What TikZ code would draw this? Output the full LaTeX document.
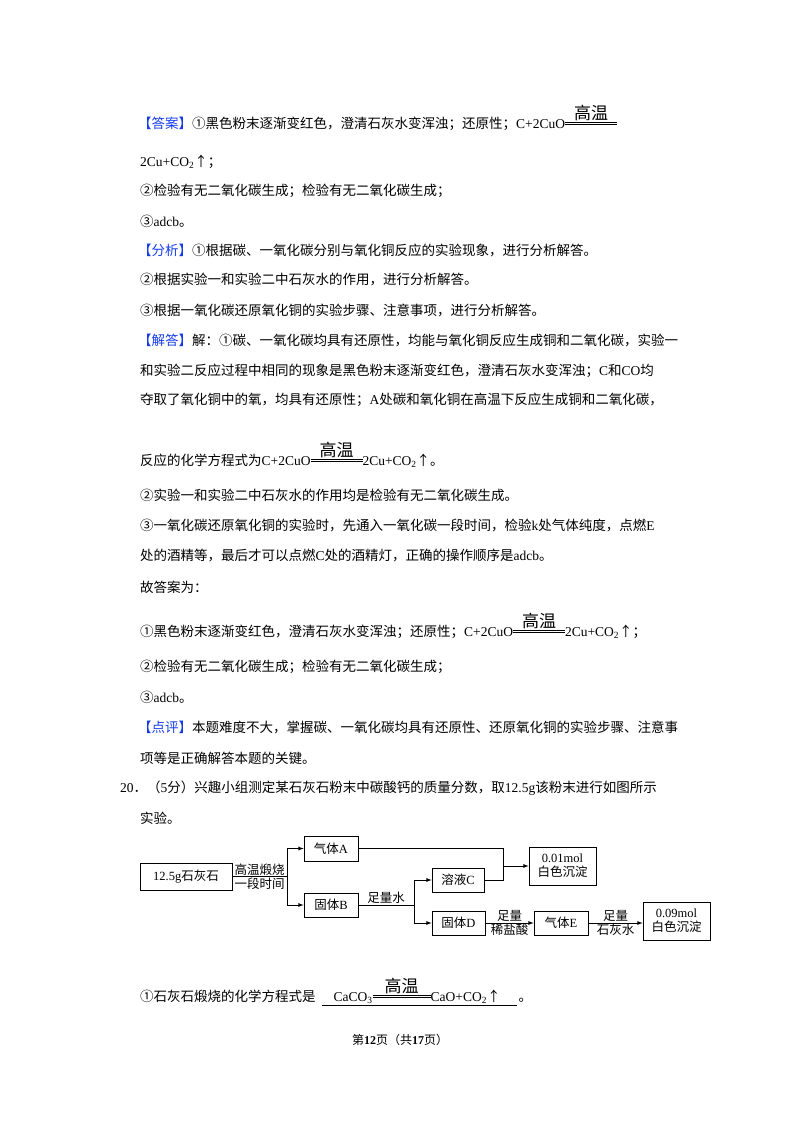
\documentclass[tikz,border=0pt]{standalone}
\usepackage{fontspec}
\setmainfont{Noto Sans CJK SC}
\newfontfamily\en{Liberation Serif}
\definecolor{tagblue}{RGB}{20,60,235}
\newcommand\tag[1]{\textcolor{tagblue}{【#1】}}
\newcommand\gw[1]{\raisebox{0.25em}{\vbox{\hbox to #1{\hss\fontsize{17}{17}\selectfont 高温\hss}\kern1pt\hrule width #1 height .6pt\kern1.6pt\hrule width #1 height .6pt}}}
\newcommand\cotwo{{\en CO\textsubscript{2}}}
\tikzset{
  txt/.style={anchor=west, inner sep=0pt, font=\fontsize{13.5}{16}\selectfont},
  box/.style={draw, thick, inner sep=2pt, align=center, font=\fontsize{12.5}{14}\selectfont},
  lbl/.style={inner sep=1pt, font=\fontsize{12.5}{14}\selectfont},
  flow/.style={thick, -latex}
}
\begin{document}
\begin{tikzpicture}[x=1pt, y=-1pt]
\useasboundingbox (0,0) rectangle (800,1132);
% answer
\node[txt] (l1) at (138,118) {\tag{答案}①黑色粉末逐渐变红色，澄清石灰水变浑浊；还原性；{\en C+2CuO}\gw{52pt}};
\node[txt] (l2) at (140,162) {{\en 2Cu+}\cotwo↑；};
\node[txt] (l3) at (140,191) {②检验有无二氧化碳生成；检验有无二氧化碳生成；};
\node[txt] (l4) at (140,221) {③{\en adcb}。};
% analysis
\node[txt] (l5) at (138,250) {\tag{分析}①根据碳、一氧化碳分别与氧化铜反应的实验现象，进行分析解答。};
\node[txt] (l6) at (140,280) {②根据实验一和实验二中石灰水的作用，进行分析解答。};
\node[txt] (l7) at (140,310) {③根据一氧化碳还原氧化铜的实验步骤、注意事项，进行分析解答。};
% solution
\node[txt] (l8) at (138,340) {\tag{解答}解：①碳、一氧化碳均具有还原性，均能与氧化铜反应生成铜和二氧化碳，实验一};
\node[txt] (l9) at (140,371) {和实验二反应过程中相同的现象是黑色粉末逐渐变红色，澄清石灰水变浑浊；{\en C}和{\en CO}均};
\node[txt] (l10) at (140,400) {夺取了氧化铜中的氧，均具有还原性；{\en A}处碳和氧化铜在高温下反应生成铜和二氧化碳，};
\node[txt] (l11) at (140,455) {反应的化学方程式为{\en C+2CuO}\gw{52pt}{\en 2Cu+}\cotwo↑。};
\node[txt] (l12) at (140,495) {②实验一和实验二中石灰水的作用均是检验有无二氧化碳生成。};
\node[txt] (l13) at (140,525) {③一氧化碳还原氧化铜的实验时，先通入一氧化碳一段时间，检验{\en k}处气体纯度，点燃{\en E}};
\node[txt] (l14) at (140,556) {处的酒精等，最后才可以点燃{\en C}处的酒精灯，正确的操作顺序是{\en adcb}。};
\node[txt] (l15) at (140,587) {故答案为：};
\node[txt] (l16) at (140,626) {①黑色粉末逐渐变红色，澄清石灰水变浑浊；还原性；{\en C+2CuO}\gw{52pt}{\en 2Cu+}\cotwo↑；};
\node[txt] (l17) at (140,667) {②检验有无二氧化碳生成；检验有无二氧化碳生成；};
\node[txt] (l18) at (140,697) {③{\en adcb}。};
% comment
\node[txt] (l19) at (138,727) {\tag{点评}本题难度不大，掌握碳、一氧化碳均具有还原性、还原氧化铜的实验步骤、注意事};
\node[txt] (l20) at (140,758) {项等是正确解答本题的关键。};
% question 20
\node[txt] (q1) at (120,788) {{\en 20}．（{\en 5}分）兴趣小组测定某石灰石粉末中碳酸钙的质量分数，取{\en 12.5g}该粉末进行如图所示};
\node[txt] (q2) at (140,818) {实验。};
% flowchart
\node[box, minimum width=92pt, minimum height=27pt] (stone) at (186,876.5) {{\en 12.5g}石灰石};
\node[box, minimum width=54pt, minimum height=25pt] (gasA) at (331,848.5) {气体{\en A}};
\node[box, minimum width=54pt, minimum height=24pt] (solB) at (331,905) {固体{\en B}};
\node[box, minimum width=52pt, minimum height=24pt] (liqC) at (458,880) {溶液{\en C}};
\node[box, minimum width=53pt, minimum height=24pt] (solD) at (458.5,923) {固体{\en D}};
\node[box, minimum width=54pt, minimum height=24pt] (gasE) at (561,923) {气体{\en E}};
\node[box, minimum width=67pt, minimum height=38pt] (ppt1) at (562.5,866) {{\en 0.01mol}\\白色沉淀};
\node[box, minimum width=67pt, minimum height=38pt] (ppt2) at (676.5,921) {{\en 0.09mol}\\白色沉淀};
\coordinate (fork1) at (287,876.5);
\coordinate (fork2) at (414,905);
\coordinate (join) at (503,866);
\draw[thick] (stone.east) -- (fork1) node[lbl, midway, above] {高温煅烧} node[lbl, midway, below] {一段时间};
\draw[flow] (fork1) |- (gasA.west);
\draw[flow] (fork1) |- (solB.west);
\draw[thick] (solB.east) -- (fork2) node[lbl, midway, above] {足量水};
\draw[flow] (fork2) |- (liqC.west);
\draw[flow] (fork2) |- (solD.west);
\draw[thick] (gasA.east) -| (join);
\draw[thick] (liqC.east) -| (join);
\draw[flow] (join) -- (join -| ppt1.west);
\draw[flow] (solD.east) -- (gasE.west) node[lbl, midway, above] {足量} node[lbl, midway, below] {稀盐酸};
\draw[flow] (gasE.east) -- (gasE.east -| ppt2.west) node[lbl, midway, above] {足量} node[lbl, midway, below] {石灰水};
% equation blank
\node[txt] (q3) at (140,992) {①石灰石煅烧的化学方程式是\hspace{6pt}\underline{\hspace{12pt}{\en CaCO\textsubscript{3}}\gw{58pt}{\en CaO+}\cotwo↑\hspace{16pt}}\hspace{2pt}。};
% footer
\node[inner sep=0pt, font=\fontsize{12}{14}\selectfont] (foot) at (400,1040) {第\textbf{\en 12}页（共\textbf{\en 17}页）};
\end{tikzpicture}
\end{document}
